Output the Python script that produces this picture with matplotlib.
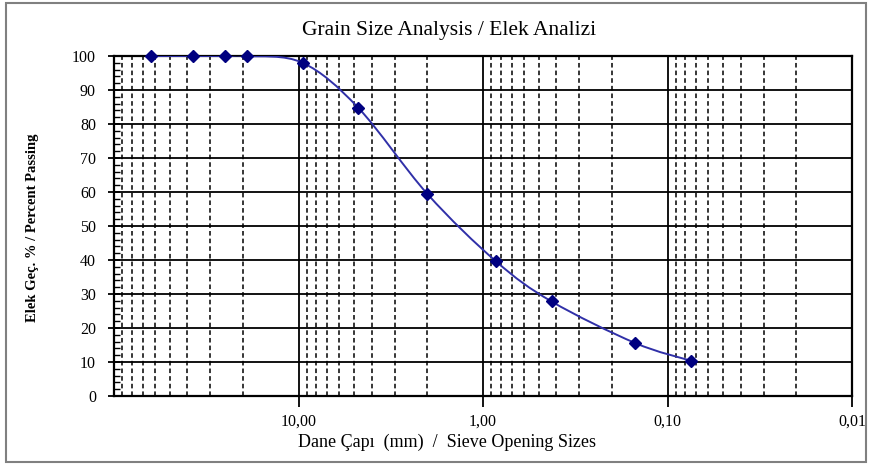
import matplotlib
matplotlib.use("Agg")
import matplotlib.pyplot as plt
import numpy as np
from matplotlib.path import Path
from matplotlib.patches import PathPatch, Rectangle
from matplotlib.ticker import MultipleLocator, LogLocator, NullFormatter

plt.rcParams['font.family'] = ['Liberation Serif', 'DejaVu Serif']

# sieve opening (mm) and percent passing
sieve = [63, 37.5, 25, 19, 9.5, 4.75, 2.0, 0.85, 0.425, 0.15, 0.075]
passing = [100, 100, 100, 100, 98, 84.8, 59.4, 39.6, 27.8, 15.6, 10.4]
xtick_vals = [10, 1, 0.1, 0.01]
xtick_labels = ['10,00', '1,00', '0,10', '0,01']

fig = plt.figure(figsize=(8.74, 4.65), dpi=100)
fig.patches.append(Rectangle((6 / 874, 3 / 465), 860 / 874, 459 / 465,
                             transform=fig.transFigure, fill=False,
                             edgecolor='#808080', lw=1.5))
ax = fig.add_axes([114 / 874, 1 - 396 / 465, 738 / 874, 340 / 465])

ax.set_xscale('log')
ax.set_xlim(100, 0.01)
ax.set_ylim(0, 100)

# smoothed line (Excel style bezier through the points, built in log-x space)
X = np.log10(sieve)
Y = np.array(passing, dtype=float)
n = len(X)
verts = [(X[0], Y[0])]
codes = [Path.MOVETO]
for i in range(n - 1):
    p0 = (X[max(i - 1, 0)], Y[max(i - 1, 0)])
    p1 = (X[i], Y[i])
    p2 = (X[i + 1], Y[i + 1])
    p3 = (X[min(i + 2, n - 1)], Y[min(i + 2, n - 1)])
    c1 = (p1[0] + (p2[0] - p0[0]) / 6, p1[1] + (p2[1] - p0[1]) / 6)
    c2 = (p2[0] - (p3[0] - p1[0]) / 6, p2[1] - (p3[1] - p1[1]) / 6)
    verts += [c1, c2, p2]
    codes += [Path.CURVE4] * 3
verts = [(10 ** vx, vy) for vx, vy in verts]
ax.add_patch(PathPatch(Path(verts, codes), fill=False, edgecolor='#3030a8',
                       lw=1.4, zorder=3))
ax.plot(sieve, passing, linestyle='none', marker='D', ms=6.5,
        color='#000080', zorder=4, clip_on=False)

# grid
ax.xaxis.set_major_locator(LogLocator(base=10))
ax.xaxis.set_minor_locator(LogLocator(base=10, subs=np.arange(2, 10)))
ax.xaxis.set_minor_formatter(NullFormatter())
ax.set_xticks(xtick_vals)
ax.set_xticklabels(xtick_labels)
ax.yaxis.set_major_locator(MultipleLocator(10))
ax.yaxis.set_minor_locator(MultipleLocator(2))
ax.grid(which='major', color='black', lw=1.3)
ax.grid(which='minor', axis='x', color='black', lw=1.1, linestyle=(0, (3, 2)))
ax.set_axisbelow(True)

for s in ax.spines.values():
    s.set_linewidth(1.6)
    s.set_color('black')

ax.tick_params(axis='x', which='major', direction='out', length=8, width=1.3,
               pad=5, labelsize=11.5)
ax.tick_params(axis='x', which='minor', length=0)
ax.tick_params(axis='y', which='major', direction='inout', length=8, width=1.3,
               pad=9, labelsize=11.5)
ax.tick_params(axis='y', which='minor', direction='in', length=4, width=1)

fig.text(449 / 874, 1 - 30 / 465, 'Grain Size Analysis / Elek Analizi',
         ha='center', va='center', fontsize=15.5)
fig.text(447 / 874, 1 - 442 / 465,
         'Dane Çapı  (mm)  /  Sieve Opening Sizes',
         ha='center', va='center', fontsize=13)
fig.text(33 / 874, 1 - 228 / 465, 'Elek Geç. % / Percent Passing',
         ha='center', va='center', rotation=90, fontsize=10.5,
         fontweight='bold')

fig.savefig('out.png', dpi=100)
